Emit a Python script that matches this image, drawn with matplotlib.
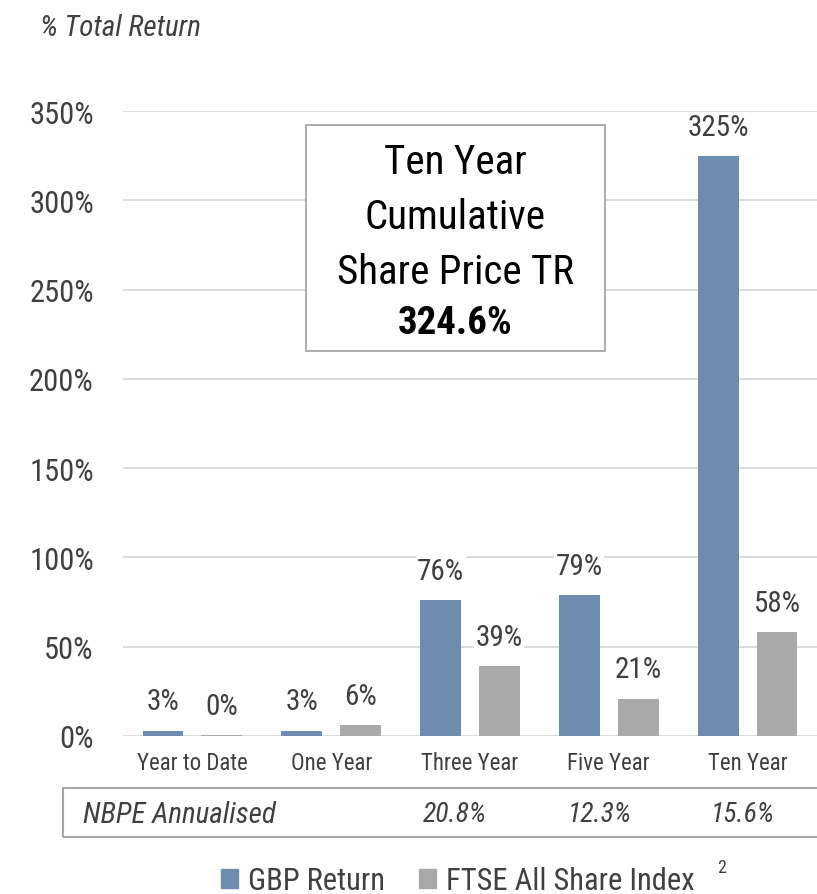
"""
Cumulative total return bar chart: GBP return against the FTSE All Share Index,
with a callout box, an annualised-return strip and a legend underneath.
"""

import matplotlib
matplotlib.use("Agg")
import matplotlib.pyplot as plt
from matplotlib.patches import Rectangle, Patch
import numpy as np

periods = ["Year to Date", "One Year", "Three Year", "Five Year", "Ten Year"]
gbp_return = [3, 3, 76, 79, 324.6]
ftse_return = [0.3, 6, 39, 21, 58]
y_ticks = [0, 50, 100, 150, 200, 250, 300, 350]

annualised_label = "NBPE Annualised"
annualised_x = [455, 600, 743]
annualised = ["20.8%", "12.3%", "15.6%"]

callout_lines = ["Ten Year", "Cumulative", "Share Price TR"]
callout_value = "324.6%"

BLUE = "#6e8cb0"
GREY = "#a9a9a9"
TEXT = "#404040"
GRID = "#d9d9d9"

W, H = 817, 895

plt.rcParams["font.family"] = ["Roboto Condensed", "Liberation Sans", "DejaVu Sans"]


def fx(px):
    return px / W


def fy(py):
    return 1 - py / H


fig = plt.figure(figsize=(W / 100, H / 100), dpi=100)
ax = fig.add_axes([fx(123), fy(737), fx(817) - fx(123), fy(112) - fy(737)])

x = np.arange(len(periods))
width = 0.295
offset = 0.212
ax.bar(x - offset, gbp_return, width, color=BLUE, zorder=3, label="GBP Return")
ax.bar(x + offset, ftse_return, width, color=GREY, zorder=3, label="FTSE All Share Index")

for xs, vals in ((x - offset, gbp_return), (x + offset, ftse_return)):
    for xi, v in zip(xs, vals):
        ax.annotate(f"{v:.0f}%", (xi, v), xytext=(0, 11), textcoords="offset points",
                    ha="center", va="bottom", fontsize=21, color=TEXT, zorder=4,
                    bbox=dict(fc="white", ec="none", pad=1))

ax.set_xlim(-0.5, len(periods) - 0.5)
ax.set_ylim(0, 350)
ax.set_xticks(x)
ax.set_xticklabels(periods)
ax.set_yticks(y_ticks)
ax.set_yticklabels([f"{v}%" for v in y_ticks])
ax.tick_params(length=0)
ax.tick_params(axis="y", labelsize=22, labelcolor=TEXT, pad=21)
ax.tick_params(axis="x", labelsize=16.5, labelcolor=TEXT, pad=11)
for s in ax.spines.values():
    s.set_visible(False)
ax.yaxis.grid(True, color=GRID, lw=1.3)
ax.set_axisbelow(True)

fig.text(fx(40), fy(28), "% Total Return", style="italic", fontsize=21,
         color=TEXT, ha="left", va="center")

# callout box
fig.add_artist(Rectangle((fx(306), fy(352)), fx(605) - fx(306), fy(126) - fy(352),
                         transform=fig.transFigure, fc="white", ec="#a6a6a6", lw=1.3,
                         zorder=5))
for line, py in zip(callout_lines, [163, 218, 273]):
    fig.text(fx(455), fy(py), line, fontsize=29.5, color="black",
             ha="center", va="center", zorder=6)
fig.text(fx(455), fy(323), callout_value, fontsize=28, fontweight="bold",
         color="black", ha="center", va="center", zorder=6)

# annualised strip
fig.add_artist(Rectangle((fx(63), fy(838)), fx(819) - fx(63), fy(789) - fy(838),
                         transform=fig.transFigure, fc="none", ec="#a6a6a6", lw=1.5))
fig.text(fx(83), fy(815), annualised_label, style="italic", fontsize=21,
         color=TEXT, ha="left", va="center")
for px, val in zip(annualised_x, annualised):
    fig.text(fx(px), fy(815), val, style="italic", fontsize=20,
             color=TEXT, ha="center", va="center")

# legend
handles = [Patch(color=BLUE), Patch(color=GREY)]
fig.legend(handles, ["GBP Return", "FTSE All Share Index"], loc="center",
           bbox_to_anchor=(fx(458), fy(882)), ncol=2, frameon=False, fontsize=22,
           labelcolor=TEXT, handlelength=0.55, handleheight=0.55,
           handletextpad=0.35, columnspacing=1.1)
fig.text(fx(722), fy(868), "2", fontsize=13, color=TEXT, ha="center", va="center")

fig.savefig("out.png", dpi=100)
